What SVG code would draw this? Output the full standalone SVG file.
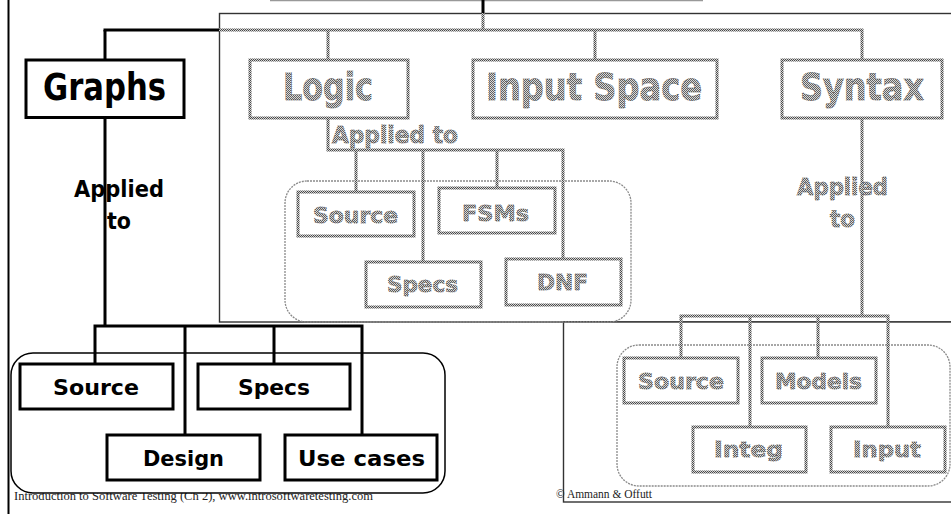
<svg xmlns="http://www.w3.org/2000/svg" width="951" height="514" viewBox="0 0 951 514">
  <defs>
    <!-- halftone stipple used for the greyed-out criteria -->
    <pattern id="st" width="2" height="2" patternUnits="userSpaceOnUse">
      <rect width="2" height="2" fill="#d4d4d4"/>
      <rect width="1" height="1" fill="#4a4a4a"/>
      <rect x="1" y="1" width="1" height="1" fill="#4a4a4a"/>
    </pattern>
    <pattern id="stl" width="2" height="2" patternUnits="userSpaceOnUse">
      <rect width="2" height="2" fill="#d8d8d8"/>
      <rect width="1" height="1" fill="#626262"/>
      <rect x="1" y="1" width="1" height="1" fill="#626262"/>
    </pattern>
  </defs>
  <style>
    .blk { fill: none; stroke: #000; stroke-width: 3; }
    .gry { fill: none; stroke: url(#st); stroke-width: 3; }
    .bbox { fill: #fff; stroke: #000; stroke-width: 3; }
    .gbox { fill: #fff; stroke: url(#st); stroke-width: 3; }
    .frame { fill: #fff; stroke: #333; stroke-width: 1.4; }
    .btxt { font-family: "DejaVu Sans", sans-serif; font-weight: bold; fill: #000; }
    .gtxt { font-family: "DejaVu Sans", sans-serif; font-weight: bold; fill: url(#stl); stroke: #4a4a4a; stroke-width: 0.9; stroke-dasharray: 1 1; }
    .big { font-size: 37px; }
    .mid { font-size: 22px; }
    .app { font-size: 23px; }
    .foot { font-family: "Liberation Serif", serif; font-size: 13px; fill: #222; }
  </style>

  <rect width="951" height="514" fill="#fff"/>

  <!-- slide border and overlay frames -->
  <path d="M8.5 0 V514" stroke="#000" stroke-width="2"/>
  <path d="M270 0.5 H703" stroke="#999" stroke-width="1.5"/>
  <rect class="frame" x="219.5" y="13.5" width="740" height="308.5"/>
  <rect class="frame" x="563.5" y="322" width="400" height="180"/>

  <!-- footer -->
  <text class="foot" x="14" y="500" textLength="359" lengthAdjust="spacingAndGlyphs">Introduction to Software Testing  (Ch 2), www.introsoftwaretesting.com</text>

  <!-- group containers -->
  <g id="graphs-targets">
    <rect x="11" y="353" width="434" height="140" rx="22" fill="#fff" stroke="#000" stroke-width="1.5"/>
  </g>
  <g id="logic-targets">
    <rect x="285" y="181" width="346" height="141" rx="22" fill="none" stroke="#8a8a8a" stroke-width="1.3" stroke-dasharray="2 1"/>
  </g>
  <g id="syntax-targets">
    <rect x="617" y="345" width="333" height="141" rx="22" fill="none" stroke="#8a8a8a" stroke-width="1.3" stroke-dasharray="2 1"/>
  </g>

  <text class="foot" x="556" y="498" textLength="96" lengthAdjust="spacingAndGlyphs">© Ammann &amp; Offutt</text>

  <!-- connectors -->
  <g id="connectors">
    <path class="blk" d="M483 0 V13"/>
    <path class="blk" d="M103.5 30 H219"/>
    <path class="blk" d="M105 30 V60"/>
    <path class="blk" d="M105 118 V326 M93.5 326 H363.5 M95 326 V364 M185 326 V435 M274 326 V364 M362 326 V435"/>
    <path class="gry" d="M219 30 H863.5 M483 13 V30 M328 30 V60 M595 30 V60 M862 30 V60"/>
    <path class="gry" d="M328 118 V150 H564.5 M356 150 V192 M423 150 V262 M497 150 V188 M563 150 V259"/>
    <path class="gry" d="M862 118 V316 M679.5 316 H889.5 M681 316 V358 M750 316 V427 M818 316 V358 M888 316 V427"/>
  </g>

  <!-- Graphs -->
  <g id="graphs">
    <rect class="bbox" x="26" y="60" width="158" height="57.5"/>
    <text class="btxt big" x="43" y="100" textLength="123" lengthAdjust="spacingAndGlyphs">Graphs</text>
  </g>
  <g id="graphs-applied">
    <text class="btxt app" x="74" y="197" textLength="90" lengthAdjust="spacingAndGlyphs">Applied</text>
    <text class="btxt app" x="107" y="229" textLength="24" lengthAdjust="spacingAndGlyphs">to</text>
  </g>
  <g id="g-source">
    <rect class="bbox" x="20" y="364" width="153" height="45"/>
    <text class="btxt mid" x="53" y="395" textLength="86" lengthAdjust="spacingAndGlyphs">Source</text>
  </g>
  <g id="g-specs">
    <rect class="bbox" x="198" y="364" width="152" height="45"/>
    <text class="btxt mid" x="238" y="395" textLength="72" lengthAdjust="spacingAndGlyphs">Specs</text>
  </g>
  <g id="g-design">
    <rect class="bbox" x="107" y="435" width="153" height="45"/>
    <text class="btxt mid" x="143" y="466" textLength="81" lengthAdjust="spacingAndGlyphs">Design</text>
  </g>
  <g id="g-usecases">
    <rect class="bbox" x="285" y="435" width="152" height="45"/>
    <text class="btxt mid" x="298" y="466" textLength="127" lengthAdjust="spacingAndGlyphs">Use cases</text>
  </g>

  <!-- Logic -->
  <g id="logic">
    <rect class="gbox" x="250" y="60" width="158" height="58"/>
    <text class="gtxt big" x="283" y="100" textLength="90" lengthAdjust="spacingAndGlyphs">Logic</text>
  </g>
  <g id="logic-applied">
    <text class="gtxt app" x="332" y="143" textLength="126" lengthAdjust="spacingAndGlyphs">Applied to</text>
  </g>
  <g id="l-source">
    <rect class="gbox" x="298" y="192" width="116" height="44"/>
    <text class="gtxt mid" x="313" y="223" textLength="85" lengthAdjust="spacingAndGlyphs">Source</text>
  </g>
  <g id="l-fsms">
    <rect class="gbox" x="439" y="188" width="116" height="45"/>
    <text class="gtxt mid" x="462" y="221" textLength="67" lengthAdjust="spacingAndGlyphs">FSMs</text>
  </g>
  <g id="l-specs">
    <rect class="gbox" x="366" y="262" width="115" height="45"/>
    <text class="gtxt mid" x="387" y="292" textLength="71" lengthAdjust="spacingAndGlyphs">Specs</text>
  </g>
  <g id="l-dnf">
    <rect class="gbox" x="506" y="259" width="115" height="46"/>
    <text class="gtxt mid" x="537" y="290" textLength="51" lengthAdjust="spacingAndGlyphs">DNF</text>
  </g>

  <!-- Input Space -->
  <g id="input-space">
    <rect class="gbox" x="473" y="60" width="244" height="58"/>
    <text class="gtxt big" x="486" y="100" textLength="216" lengthAdjust="spacingAndGlyphs">Input Space</text>
  </g>

  <!-- Syntax -->
  <g id="syntax">
    <rect class="gbox" x="782" y="60" width="160" height="58"/>
    <text class="gtxt big" x="800" y="100" textLength="124" lengthAdjust="spacingAndGlyphs">Syntax</text>
  </g>
  <g id="syntax-applied">
    <text class="gtxt app" x="797" y="195" textLength="91" lengthAdjust="spacingAndGlyphs">Applied</text>
    <text class="gtxt app" x="830" y="227" textLength="25" lengthAdjust="spacingAndGlyphs">to</text>
  </g>
  <g id="s-source">
    <rect class="gbox" x="624" y="358" width="114" height="45"/>
    <text class="gtxt mid" x="638" y="389" textLength="86" lengthAdjust="spacingAndGlyphs">Source</text>
  </g>
  <g id="s-models">
    <rect class="gbox" x="762" y="358" width="114" height="45"/>
    <text class="gtxt mid" x="775" y="389" textLength="87" lengthAdjust="spacingAndGlyphs">Models</text>
  </g>
  <g id="s-integ">
    <rect class="gbox" x="693" y="427" width="113" height="45"/>
    <text class="gtxt mid" x="714" y="457" textLength="69" lengthAdjust="spacingAndGlyphs">Integ</text>
  </g>
  <g id="s-input">
    <rect class="gbox" x="831" y="427" width="114" height="45"/>
    <text class="gtxt mid" x="853" y="457" textLength="68" lengthAdjust="spacingAndGlyphs">Input</text>
  </g>
</svg>
